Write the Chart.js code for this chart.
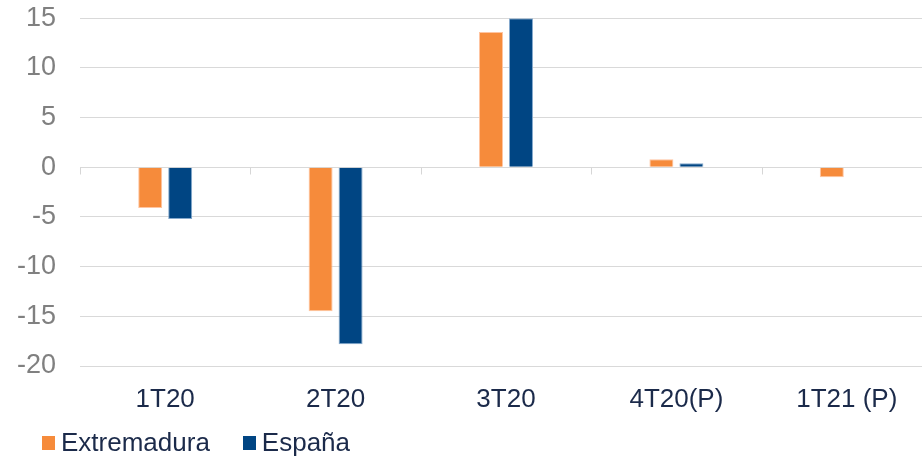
<!DOCTYPE html>
<html>
<head>
<meta charset="utf-8">
<script src="https://cdn.jsdelivr.net/npm/chart.js@4/dist/chart.umd.min.js"></script>
<style>
  html, body { margin: 0; padding: 0; background: #fff; overflow: hidden; }
  #wrap { position: relative; width: 922px; height: 459px; overflow: hidden; }
  #c { position: absolute; left: 0; top: -22px; }
  #legend { position: absolute; left: 42px; top: 427px; display: flex; font-family: "Liberation Sans", Arial, sans-serif; font-size: 26px; color: #1B2A4A; }
  .item { display: flex; align-items: center; margin-right: 33px; }
  .box { width: 13px; height: 14px; margin-right: 6px; }
</style>
</head>
<body>
<div id="wrap">
  <canvas id="c" width="932" height="481"></canvas>
  <div id="legend"></div>
</div>
<script>
// Quarterly GDP change (%), Extremadura vs España
const categories = ["1T20", "2T20", "3T20", "4T20(P)", "1T21 (P)"];
const extremadura = [-4.1, -14.5, 13.6, 0.8, -1.0];
const espana = [-5.2, -17.8, 15.0, 0.4, null];
const yTicks = [-20, -15, -10, -5, 0, 5, 10, 15];

const ORANGE = "#F68B3B";
const BLUE = "#004583";

// short tick marks under the zero line at category boundaries
const boundaryTicks = {
  id: "boundaryTicks",
  afterDatasetsDraw(chart) {
    const x = chart.scales.x, y = chart.scales.y;
    const y0 = Math.round(y.getPixelForValue(0)) + 0.5;
    const step = x.getPixelForValue(1) - x.getPixelForValue(0);
    const ctx = chart.ctx;
    ctx.save();
    ctx.strokeStyle = "#D6D6D6";
    ctx.lineWidth = 1;
    ctx.beginPath();
    for (let i = 0; i <= categories.length; i++) {
      const bx = Math.round(x.getPixelForValue(i) - step / 2) + 0.5;
      ctx.moveTo(bx, y0);
      ctx.lineTo(bx, y0 + 7);
    }
    ctx.stroke();
    ctx.restore();
  }
};

const chart = new Chart(document.getElementById("c"), {
  type: "bar",
  data: {
    labels: categories,
    datasets: [
      { label: "Extremadura", data: extremadura, backgroundColor: ORANGE, borderColor: "rgba(255,190,150,0.9)", borderWidth: 1, categoryPercentage: 0.352, barPercentage: 0.8 },
      { label: "España", data: espana, backgroundColor: BLUE, borderColor: "rgba(120,160,200,0.9)", borderWidth: 1, categoryPercentage: 0.352, barPercentage: 0.8 }
    ]
  },
  options: {
    responsive: false,
    animation: false,
    devicePixelRatio: 1,
    layout: { padding: 0 },
    plugins: { legend: { display: false }, tooltip: { enabled: false } },
    scales: {
      x: {
        grid: { display: false, drawTicks: false },
        border: { display: false },
        ticks: { color: "#1B2A4A", font: { family: "Liberation Sans", size: 26 }, padding: 18, maxRotation: 0, autoSkip: false },
        afterFit(s) { s.height = 93; }
      },
      y: {
        min: -20,
        max: 15,
        afterBuildTicks(s) { s.ticks = yTicks.map(v => ({ value: v })); },
        grid: { color: "#D9D9D9", lineWidth: 1, drawTicks: false },
        border: { display: false },
        ticks: { color: "#808080", font: { family: "Liberation Sans", size: 27 }, padding: 24 },
        afterFit(s) { s.width = 80; }
      }
    }
  },
  plugins: [boundaryTicks]
});

// legend built from the datasets
const legend = document.getElementById("legend");
chart.data.datasets.forEach(ds => {
  const item = document.createElement("div");
  item.className = "item";
  const box = document.createElement("span");
  box.className = "box";
  box.style.background = ds.backgroundColor;
  const txt = document.createElement("span");
  txt.textContent = ds.label;
  item.appendChild(box);
  item.appendChild(txt);
  legend.appendChild(item);
});
</script>
</body>
</html>
